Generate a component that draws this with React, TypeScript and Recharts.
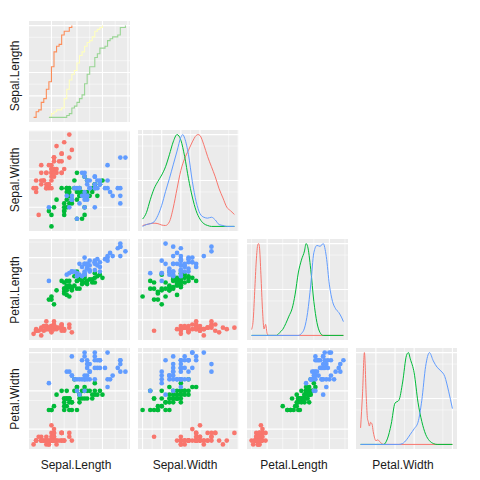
import React from 'react';
import { ScatterChart, Scatter, LineChart, Line, XAxis, YAxis, CartesianGrid } from 'recharts';

// iris measurements, one array per species and variable
const setosaSepalLength = [5.1, 4.9, 4.7, 4.6, 5.0, 5.4, 4.6, 5.0, 4.4, 4.9, 5.4, 4.8, 4.8, 4.3, 5.8, 5.7, 5.4, 5.1, 5.7, 5.1, 5.4, 5.1, 4.6, 5.1, 4.8, 5.0, 5.0, 5.2, 5.2, 4.7, 4.8, 5.4, 5.2, 5.5, 4.9, 5.0, 5.5, 4.9, 4.4, 5.1, 5.0, 4.5, 4.4, 5.0, 5.1, 4.8, 5.1, 4.6, 5.3, 5.0];
const setosaSepalWidth = [3.5, 3.0, 3.2, 3.1, 3.6, 3.9, 3.4, 3.4, 2.9, 3.1, 3.7, 3.4, 3.0, 3.0, 4.0, 4.4, 3.9, 3.5, 3.8, 3.8, 3.4, 3.7, 3.6, 3.3, 3.4, 3.0, 3.4, 3.5, 3.4, 3.2, 3.1, 3.4, 4.1, 4.2, 3.1, 3.2, 3.5, 3.6, 3.0, 3.4, 3.5, 2.3, 3.2, 3.5, 3.8, 3.0, 3.8, 3.2, 3.7, 3.3];
const setosaPetalLength = [1.4, 1.4, 1.3, 1.5, 1.4, 1.7, 1.4, 1.5, 1.4, 1.5, 1.5, 1.6, 1.4, 1.1, 1.2, 1.5, 1.3, 1.4, 1.7, 1.5, 1.7, 1.5, 1.0, 1.7, 1.9, 1.6, 1.6, 1.5, 1.4, 1.6, 1.6, 1.5, 1.5, 1.4, 1.5, 1.2, 1.3, 1.4, 1.3, 1.5, 1.3, 1.3, 1.3, 1.6, 1.9, 1.4, 1.6, 1.4, 1.5, 1.4];
const setosaPetalWidth = [0.2, 0.2, 0.2, 0.2, 0.2, 0.4, 0.3, 0.2, 0.2, 0.1, 0.2, 0.2, 0.1, 0.1, 0.2, 0.4, 0.4, 0.3, 0.3, 0.3, 0.2, 0.4, 0.2, 0.5, 0.2, 0.2, 0.4, 0.2, 0.2, 0.2, 0.2, 0.4, 0.1, 0.2, 0.2, 0.2, 0.2, 0.1, 0.2, 0.2, 0.3, 0.3, 0.2, 0.6, 0.4, 0.3, 0.2, 0.2, 0.2, 0.2];

const versicolorSepalLength = [7.0, 6.4, 6.9, 5.5, 6.5, 5.7, 6.3, 4.9, 6.6, 5.2, 5.0, 5.9, 6.0, 6.1, 5.6, 6.7, 5.6, 5.8, 6.2, 5.6, 5.9, 6.1, 6.3, 6.1, 6.4, 6.6, 6.8, 6.7, 6.0, 5.7, 5.5, 5.5, 5.8, 6.0, 5.4, 6.0, 6.7, 6.3, 5.6, 5.5, 5.5, 6.1, 5.8, 5.0, 5.6, 5.7, 5.7, 6.2, 5.1, 5.7];
const versicolorSepalWidth = [3.2, 3.2, 3.1, 2.3, 2.8, 2.8, 3.3, 2.4, 2.9, 2.7, 2.0, 3.0, 2.2, 2.9, 2.9, 3.1, 3.0, 2.7, 2.2, 2.5, 3.2, 2.8, 2.5, 2.8, 2.9, 3.0, 2.8, 3.0, 2.9, 2.6, 2.4, 2.4, 2.7, 2.7, 3.0, 3.4, 3.1, 2.3, 3.0, 2.5, 2.6, 3.0, 2.6, 2.3, 2.7, 3.0, 2.9, 2.9, 2.5, 2.8];
const versicolorPetalLength = [4.7, 4.5, 4.9, 4.0, 4.6, 4.5, 4.7, 3.3, 4.6, 3.9, 3.5, 4.2, 4.0, 4.7, 3.6, 4.4, 4.5, 4.1, 4.5, 3.9, 4.8, 4.0, 4.9, 4.7, 4.3, 4.4, 4.8, 5.0, 4.5, 3.5, 3.8, 3.7, 3.9, 5.1, 4.5, 4.5, 4.7, 4.4, 4.1, 4.0, 4.4, 4.6, 4.0, 3.3, 4.2, 4.2, 4.2, 4.3, 3.0, 4.1];
const versicolorPetalWidth = [1.4, 1.5, 1.5, 1.3, 1.5, 1.3, 1.6, 1.0, 1.3, 1.4, 1.0, 1.5, 1.0, 1.4, 1.3, 1.4, 1.5, 1.0, 1.5, 1.1, 1.8, 1.3, 1.5, 1.2, 1.3, 1.4, 1.4, 1.7, 1.5, 1.0, 1.1, 1.0, 1.2, 1.6, 1.5, 1.6, 1.5, 1.3, 1.3, 1.3, 1.2, 1.4, 1.2, 1.0, 1.3, 1.2, 1.3, 1.3, 1.1, 1.3];

const virginicaSepalLength = [6.3, 5.8, 7.1, 6.3, 6.5, 7.6, 4.9, 7.3, 6.7, 7.2, 6.5, 6.4, 6.8, 5.7, 5.8, 6.4, 6.5, 7.7, 7.7, 6.0, 6.9, 5.6, 7.7, 6.3, 6.7, 7.2, 6.2, 6.1, 6.4, 7.2, 7.4, 7.9, 6.4, 6.3, 6.1, 7.7, 6.3, 6.4, 6.0, 6.9, 6.7, 6.9, 5.8, 6.8, 6.7, 6.7, 6.3, 6.5, 6.2, 5.9];
const virginicaSepalWidth = [3.3, 2.7, 3.0, 2.9, 3.0, 3.0, 2.5, 2.9, 2.5, 3.6, 3.2, 2.7, 3.0, 2.5, 2.8, 3.2, 3.0, 3.8, 2.6, 2.2, 3.2, 2.8, 2.8, 2.7, 3.3, 3.2, 2.8, 3.0, 2.8, 3.0, 2.8, 3.8, 2.8, 2.8, 2.6, 3.0, 3.4, 3.1, 3.0, 3.1, 3.1, 3.1, 2.7, 3.2, 3.3, 3.0, 2.5, 3.0, 3.4, 3.0];
const virginicaPetalLength = [6.0, 5.1, 5.9, 5.6, 5.8, 6.6, 4.5, 6.3, 5.8, 6.1, 5.1, 5.3, 5.5, 5.0, 5.1, 5.3, 5.5, 6.7, 6.9, 5.0, 5.7, 4.9, 6.7, 4.9, 5.7, 6.0, 4.8, 4.9, 5.6, 5.8, 6.1, 6.4, 5.6, 5.1, 5.6, 6.1, 5.6, 5.5, 4.8, 5.4, 5.6, 5.1, 5.1, 5.9, 5.7, 5.2, 5.0, 5.2, 5.4, 5.1];
const virginicaPetalWidth = [2.5, 1.9, 2.1, 1.8, 2.2, 2.1, 1.7, 1.8, 1.8, 2.5, 2.0, 1.9, 2.1, 2.0, 2.4, 2.3, 1.8, 2.2, 2.3, 1.5, 2.3, 2.0, 2.0, 1.8, 2.1, 1.8, 1.8, 1.8, 2.1, 1.6, 1.9, 2.0, 2.2, 1.5, 1.4, 2.3, 2.4, 1.8, 1.8, 2.1, 2.4, 2.3, 1.9, 2.3, 2.5, 2.3, 1.9, 2.0, 2.3, 1.8];

// ECDF of Sepal.Length per species: [value, cumulative share]
const ecdfSetosa = [[4.3, 0.02], [4.4, 0.08], [4.5, 0.10], [4.6, 0.18], [4.7, 0.22], [4.8, 0.32], [4.9, 0.40], [5.0, 0.56], [5.1, 0.72], [5.2, 0.78], [5.3, 0.80], [5.4, 0.90], [5.5, 0.94], [5.7, 0.98], [5.8, 1.00]];
const ecdfVersicolor = [[4.9, 0.02], [5.0, 0.06], [5.1, 0.08], [5.2, 0.10], [5.4, 0.12], [5.5, 0.22], [5.6, 0.32], [5.7, 0.42], [5.8, 0.48], [5.9, 0.52], [6.0, 0.60], [6.1, 0.68], [6.2, 0.72], [6.3, 0.78], [6.4, 0.82], [6.5, 0.84], [6.6, 0.88], [6.7, 0.94], [6.8, 0.96], [6.9, 0.98], [7.0, 1.00]];
const ecdfVirginica = [[4.9, 0.02], [5.6, 0.04], [5.7, 0.06], [5.8, 0.12], [5.9, 0.14], [6.0, 0.18], [6.1, 0.22], [6.2, 0.26], [6.3, 0.38], [6.4, 0.48], [6.5, 0.56], [6.7, 0.66], [6.8, 0.70], [6.9, 0.76], [7.1, 0.78], [7.2, 0.84], [7.3, 0.86], [7.4, 0.88], [7.6, 0.90], [7.7, 0.98], [7.9, 1.00]];

// scaled densities: [value, height]
const swSetosaDensity = [[2.0, 0.01], [2.1, 0.02], [2.2, 0.03], [2.3, 0.035], [2.4, 0.03], [2.5, 0.015], [2.6, 0.01], [2.7, 0.05], [2.8, 0.2], [2.9, 0.41], [3.0, 0.61], [3.1, 0.74], [3.2, 0.83], [3.3, 0.92], [3.4, 0.99], [3.45, 1.0], [3.5, 0.99], [3.6, 0.89], [3.7, 0.76], [3.8, 0.65], [3.9, 0.54], [4.0, 0.41], [4.1, 0.31], [4.2, 0.21], [4.3, 0.17], [4.4, 0.13]];
const swVersicolorDensity = [[2.0, 0.08], [2.1, 0.15], [2.2, 0.29], [2.3, 0.41], [2.4, 0.49], [2.5, 0.56], [2.6, 0.65], [2.7, 0.78], [2.8, 0.92], [2.9, 1.0], [3.0, 0.94], [3.1, 0.76], [3.2, 0.52], [3.3, 0.32], [3.4, 0.17], [3.5, 0.08], [3.6, 0.03], [3.7, 0.01], [3.8, 0], [4.4, 0]];
const swVirginicaDensity = [[2.0, 0], [2.1, 0.02], [2.2, 0.03], [2.3, 0.05], [2.4, 0.12], [2.5, 0.23], [2.6, 0.38], [2.7, 0.52], [2.8, 0.67], [2.9, 0.82], [3.0, 0.97], [3.05, 1.0], [3.1, 0.96], [3.2, 0.78], [3.3, 0.49], [3.4, 0.27], [3.5, 0.14], [3.6, 0.1], [3.7, 0.09], [3.8, 0.1], [3.9, 0.07], [4.0, 0.02], [4.1, 0.01], [4.2, 0], [4.4, 0]];

const plSetosaDensity = [[1.0, 0.065], [1.1, 0.16], [1.2, 0.48], [1.3, 0.81], [1.4, 0.99], [1.45, 1.0], [1.5, 0.97], [1.6, 0.66], [1.7, 0.28], [1.8, 0.07], [1.9, 0.12], [2.0, 0.02], [2.1, 0], [6.9, 0]];
const plVersicolorDensity = [[1.0, 0], [2.6, 0], [2.8, 0.03], [3.0, 0.065], [3.2, 0.13], [3.4, 0.21], [3.6, 0.29], [3.8, 0.45], [4.0, 0.68], [4.2, 0.82], [4.4, 0.92], [4.5, 1.0], [4.6, 0.97], [4.8, 0.72], [5.0, 0.37], [5.2, 0.14], [5.4, 0.03], [5.6, 0], [6.9, 0]];
const plVirginicaDensity = [[1.0, 0], [4.0, 0], [4.2, 0.02], [4.4, 0.08], [4.6, 0.25], [4.8, 0.55], [5.0, 0.9], [5.2, 0.98], [5.4, 0.97], [5.6, 1.0], [5.8, 0.86], [6.0, 0.55], [6.2, 0.37], [6.4, 0.29], [6.6, 0.25], [6.8, 0.19], [6.9, 0.15]];

const pwSetosaDensity = [[0.1, 0.18], [0.15, 0.55], [0.2, 1.0], [0.25, 0.5], [0.28, 0.28], [0.3, 0.25], [0.33, 0.2], [0.36, 0.24], [0.4, 0.22], [0.43, 0.14], [0.46, 0.08], [0.5, 0.04], [0.55, 0.05], [0.6, 0.03], [0.65, 0.01], [0.7, 0], [2.5, 0]];
const pwVersicolorDensity = [[0.1, 0], [0.7, 0], [0.8, 0.06], [0.9, 0.22], [1.0, 0.45], [1.1, 0.48], [1.2, 0.68], [1.3, 0.97], [1.35, 1.0], [1.4, 0.93], [1.5, 0.78], [1.6, 0.46], [1.7, 0.25], [1.8, 0.11], [1.9, 0.04], [2.0, 0.01], [2.1, 0], [2.5, 0]];
const pwVirginicaDensity = [[0.1, 0], [1.1, 0], [1.2, 0.01], [1.3, 0.05], [1.4, 0.11], [1.5, 0.17], [1.6, 0.24], [1.7, 0.48], [1.8, 0.85], [1.9, 1.0], [2.0, 0.91], [2.1, 0.84], [2.2, 0.8], [2.3, 0.74], [2.4, 0.58], [2.5, 0.39]];

const varLabels = ['Sepal.Length', 'Sepal.Width', 'Petal.Length', 'Petal.Width'];

const speciesColors = ['#F8766D', '#00BA38', '#619CFF'];
const ecdfColors = ['#FC8D59', '#FFFFBF', '#99D594'];

// per variable: [setosa, versicolor, virginica]
const measures = [
  [setosaSepalLength, versicolorSepalLength, virginicaSepalLength],
  [setosaSepalWidth, versicolorSepalWidth, virginicaSepalWidth],
  [setosaPetalLength, versicolorPetalLength, virginicaPetalLength],
  [setosaPetalWidth, versicolorPetalWidth, virginicaPetalWidth],
];
const densities = [
  null,
  [swSetosaDensity, swVersicolorDensity, swVirginicaDensity],
  [plSetosaDensity, plVersicolorDensity, plVirginicaDensity],
  [pwSetosaDensity, pwVersicolorDensity, pwVirginicaDensity],
];
const ecdfs = [ecdfSetosa, ecdfVersicolor, ecdfVirginica];

// axis ranges incl. ggplot's 5% expansion, and grid breaks
const domains: [number, number][] = [[4.12, 8.08], [1.88, 4.52], [0.705, 7.195], [-0.02, 2.62]];
const majorBreaks = [[5, 6, 7, 8], [2, 2.5, 3, 3.5, 4, 4.5], [2, 4, 6], [0, 0.5, 1, 1.5, 2, 2.5]];
const minorBreaks = [[4.5, 5.5, 6.5, 7.5], [2.25, 2.75, 3.25, 3.75, 4.25], [1, 3, 5, 7], [0.25, 0.75, 1.25, 1.75, 2.25]];
const unitMajor = [0, 0.25, 0.5, 0.75, 1];
const unitMinor = [0.125, 0.375, 0.625, 0.875];

const SIZE = 101;
const colLeft = [29, 138, 247, 356];
const rowTop = [21, 130, 239, 348];
const bottomLabelX = [76, 185, 294, 403];
const sideLabelY = [76, 180, 290, 399];
const margin = { top: 0, right: 0, bottom: 0, left: 0 };

const toXY = (pairs: number[][]) => pairs.map(([x, y]) => ({ x, y }));

function grids(xi: number, yMajor: number[], yMinor: number[]) {
  return [
    <CartesianGrid key="minor" stroke="#ffffff" strokeWidth={0.5} verticalValues={minorBreaks[xi]} horizontalValues={yMinor} />,
    <CartesianGrid key="major" stroke="#ffffff" strokeWidth={1.07} verticalValues={majorBreaks[xi]} horizontalValues={yMajor} />,
  ];
}

function Panel({ row, col, children }: { row: number; col: number; children: React.ReactNode }) {
  return (
    <div style={{ position: 'absolute', left: colLeft[col], top: rowTop[row], width: SIZE, height: SIZE, background: '#EBEBEB' }}>
      {children}
    </div>
  );
}

function ScatterPanel({ row, col }: { row: number; col: number }) {
  const xs = measures[col];
  const ys = measures[row];
  return (
    <Panel row={row} col={col}>
      <ScatterChart width={SIZE} height={SIZE} margin={margin}>
        {grids(col, majorBreaks[row], minorBreaks[row])}
        <XAxis type="number" dataKey="x" domain={domains[col]} hide allowDataOverflow />
        <YAxis type="number" dataKey="y" domain={domains[row]} hide allowDataOverflow />
        {speciesColors.map((c, k) => (
          <Scatter
            key={k}
            data={xs[k].map((x, i) => ({ x, y: ys[k][i] }))}
            fill={c}
            isAnimationActive={false}
            shape={(p: any) => <circle cx={p.cx} cy={p.cy} r={2.35} fill={c} />}
          />
        ))}
      </ScatterChart>
    </Panel>
  );
}

function DensityPanel({ idx }: { idx: number }) {
  const series = densities[idx] as number[][][];
  return (
    <Panel row={idx} col={idx}>
      <LineChart width={SIZE} height={SIZE} margin={margin}>
        {grids(idx, unitMajor, unitMinor)}
        <XAxis type="number" dataKey="x" domain={domains[idx]} hide allowDataOverflow />
        <YAxis type="number" dataKey="y" domain={[-0.05, 1.05]} hide allowDataOverflow />
        {series.map((s, k) => (
          <Line key={k} data={toXY(s)} dataKey="y" type="monotone" stroke={speciesColors[k]} strokeWidth={1} dot={false} isAnimationActive={false} />
        ))}
      </LineChart>
    </Panel>
  );
}

function EcdfPanel() {
  return (
    <Panel row={0} col={0}>
      <LineChart width={SIZE} height={SIZE} margin={margin}>
        {grids(0, unitMajor, unitMinor)}
        <XAxis type="number" dataKey="x" domain={domains[0]} hide allowDataOverflow />
        <YAxis type="number" dataKey="y" domain={[-0.029, 1.049]} hide allowDataOverflow />
        {ecdfs.map((s, k) => (
          <Line key={k} data={toXY(s)} dataKey="y" type="stepAfter" stroke={ecdfColors[k]} strokeWidth={1.1} dot={false} isAnimationActive={false} />
        ))}
      </LineChart>
    </Panel>
  );
}

export default function App() {
  const font = '"Liberation Sans", Arial, sans-serif';
  return (
    <div style={{ position: 'absolute', left: 0, top: 0, width: 480, height: 480, background: '#fff' }}>
      <svg width={480} height={480} style={{ position: 'absolute', left: 0, top: 0 }}>
        {varLabels.map((label, i) => (
          <text key={'b' + i} x={bottomLabelX[i]} y={469} textAnchor="middle" fontFamily={font} fontSize={12} fill="#1A1A1A">
            {label}
          </text>
        ))}
        {varLabels.map((label, i) => (
          <text key={'l' + i} x={19} y={sideLabelY[i]} textAnchor="middle" fontFamily={font} fontSize={12} fill="#1A1A1A" transform={`rotate(-90, 19, ${sideLabelY[i]})`}>
            {label}
          </text>
        ))}
      </svg>
      <EcdfPanel />
      <ScatterPanel row={1} col={0} />
      <DensityPanel idx={1} />
      <ScatterPanel row={2} col={0} />
      <ScatterPanel row={2} col={1} />
      <DensityPanel idx={2} />
      <ScatterPanel row={3} col={0} />
      <ScatterPanel row={3} col={1} />
      <ScatterPanel row={3} col={2} />
      <DensityPanel idx={3} />
    </div>
  );
}
